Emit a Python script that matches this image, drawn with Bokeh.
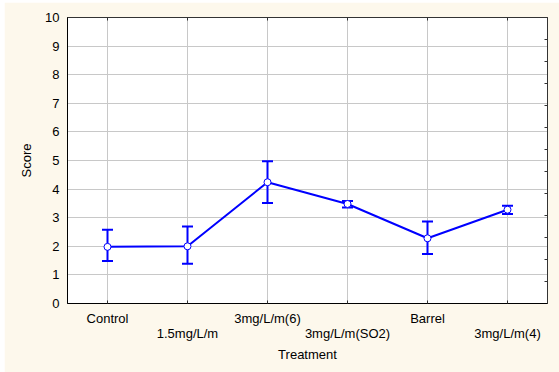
from bokeh.plotting import figure
from bokeh.models import (ColumnDataSource, Range1d, FixedTicker, LinearAxis, Whisker,
                          TeeHead, Spacer)
from bokeh.layouts import row, column
from bokeh.embed import file_html
from bokeh.resources import INLINE

categories = ["Control", "1.5mg/L/m", "3mg/L/m(6)", "3mg/L/m(SO2)", "Barrel", "3mg/L/m(4)"]
means = [1.98, 2.00, 4.24, 3.48, 2.28, 3.28]
upper = [2.58, 2.69, 4.97, 3.58, 2.87, 3.42]
lower = [1.49, 1.39, 3.51, 3.36, 1.73, 3.13]
y_ticks = list(range(0, 11))

FONT = "Liberation Sans"
BG = "#FDF8EC"
BLUE = "#0000FF"

xs = list(range(len(categories)))
src = ColumnDataSource(dict(x=xs, y=means, upper=upper, lower=lower))

p = figure(width=555, height=370, output_backend="svg", toolbar_location=None,
           x_range=Range1d(-0.5, len(categories) - 0.5), y_range=Range1d(0, 10),
           min_border_left=63, min_border_top=15, min_border_right=12, min_border_bottom=69)
p.background_fill_color = "white"
p.border_fill_color = BG
p.outline_line_color = "#333333"
p.outline_line_width = 1

# grids
p.xgrid.ticker = FixedTicker(ticks=xs)
p.ygrid.ticker = FixedTicker(ticks=y_ticks)
for g in (p.xgrid, p.ygrid):
    g.grid_line_color = "#C8C8C8"
    g.grid_line_width = 1

# bottom axis
xa = p.xaxis[0]
xa.ticker = FixedTicker(ticks=xs)
xa.major_label_overrides = {i: (c if i % 2 == 0 else "\n" + c) for i, c in enumerate(categories)}
xa.axis_label = "Treatment"
xa.major_tick_in = 3
xa.major_tick_out = 0
xa.minor_tick_line_color = None
xa.axis_line_color = "black"
xa.major_tick_line_color = "#333333"
xa.major_label_standoff = 7
xa.axis_label_standoff = 3
xa.major_label_text_font = FONT
xa.major_label_text_font_size = "13px"
xa.major_label_text_line_height = 1.05
xa.major_label_text_color = "black"
xa.axis_label_text_font = FONT
xa.axis_label_text_font_size = "13px"
xa.axis_label_text_font_style = "normal"
xa.axis_label_text_color = "black"

# left axis
ya = p.yaxis[0]
ya.ticker = FixedTicker(ticks=y_ticks)
ya.axis_label = "Score"
ya.major_tick_in = 0
ya.major_tick_out = 0
ya.minor_tick_line_color = None
ya.axis_line_color = "black"
ya.major_label_standoff = 8
ya.axis_label_standoff = 8
ya.major_label_text_font = FONT
ya.major_label_text_font_size = "13px"
ya.major_label_text_color = "black"
ya.axis_label_text_font = FONT
ya.axis_label_text_font_size = "13px"
ya.axis_label_text_font_style = "normal"
ya.axis_label_text_color = "black"

# top axis (ticks only)
top = LinearAxis(ticker=FixedTicker(ticks=xs), major_label_text_font_size="0px",
                 major_tick_in=3, major_tick_out=0, minor_tick_line_color=None,
                 axis_line_color="#333333", major_tick_line_color="#333333",
                 major_label_standoff=0)
top.major_label_overrides = {i: "" for i in xs}
p.add_layout(top, "above")

# right axis (ticks only)
right_ticks = [i * 10 / 13 for i in range(1, 13)]
right = LinearAxis(ticker=FixedTicker(ticks=right_ticks), major_label_text_font_size="0px",
                   major_tick_in=3, major_tick_out=0, minor_tick_line_color=None,
                   axis_line_color="#333333", major_tick_line_color="#333333",
                   major_label_standoff=0)
right.major_label_overrides = {t: "" for t in right_ticks}
p.add_layout(right, "right")

# error bars
w = Whisker(source=src, base="x", upper="upper", lower="lower",
            line_color=BLUE, line_width=2,
            upper_head=TeeHead(size=11, line_color=BLUE, line_width=2),
            lower_head=TeeHead(size=11, line_color=BLUE, line_width=2))
p.add_layout(w)

p.line("x", "y", source=src, line_color=BLUE, line_width=2)
p.scatter("x", "y", source=src, size=7, fill_color="white", line_color=BLUE, line_width=1)

layout = row(Spacer(width=4, height=372),
             column(Spacer(width=555, height=2), p, styles={"background": "white"}))
layout.styles = {"background": "white"}

open("out.html", "w").write(file_html(layout, INLINE))
